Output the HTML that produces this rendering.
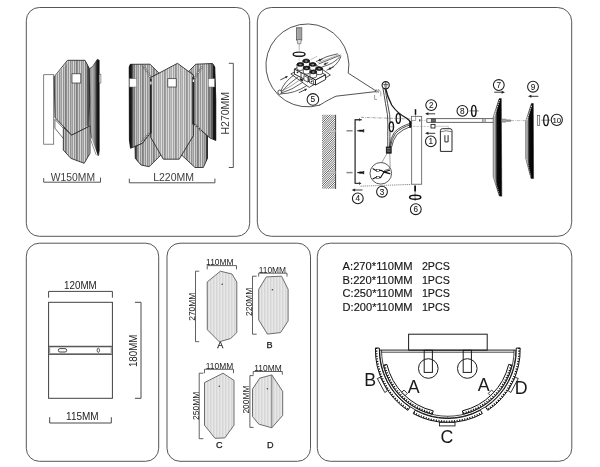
<!DOCTYPE html>
<html><head><meta charset="utf-8"><title>Assembly</title><style>html,body{margin:0;padding:0;background:#fff}svg{display:block;will-change:transform}</style></head><body>
<svg width="600" height="467" viewBox="0 0 600 467">
<rect width="600" height="467" fill="#fff"/>
<defs>
<pattern id="st1" width="11" height="8" patternUnits="userSpaceOnUse"><rect width="11" height="8" fill="#b2b2b2"/><rect x="0" width="0.9" height="8" fill="#858585"/><rect x="0.9" width="1.1" height="8" fill="#c8c8c8"/><rect x="2" width="0.8" height="8" fill="#787878"/><rect x="2.8" width="1.4" height="8" fill="#d4d4d4"/><rect x="4.2" width="0.8" height="8" fill="#8a8a8a"/><rect x="5" width="1" height="8" fill="#b4b4b4"/><rect x="6" width="0.7" height="8" fill="#6e6e6e"/><rect x="6.7" width="1.3" height="8" fill="#d8d8d8"/><rect x="8" width="1" height="8" fill="#929292"/><rect x="9" width="1" height="8" fill="#c4c4c4"/><rect x="10" width="1" height="8" fill="#808080"/></pattern>
<pattern id="st2" width="11" height="8" patternUnits="userSpaceOnUse"><rect width="11" height="8" fill="url(#st1)"/><rect width="11" height="8" fill="#fff" fill-opacity="0.15"/></pattern>
<pattern id="st3" width="1.5" height="8" patternUnits="userSpaceOnUse"><rect width="1.5" height="8" fill="#ececec"/><rect x="0" width="0.45" height="8" fill="#c2c2c2"/></pattern>
<pattern id="hatch" width="1.6" height="1.6" patternUnits="userSpaceOnUse" patternTransform="rotate(-45)"><rect width="1.6" height="1.6" fill="#fff"/><rect width="1.6" height="0.65" fill="#4a4a4a"/></pattern>
<linearGradient id="dkL" x1="0" x2="1" y1="0" y2="0"><stop offset="0" stop-color="#080808" stop-opacity="1"/><stop offset="0.28" stop-color="#080808" stop-opacity="0.9"/><stop offset="0.5" stop-color="#111" stop-opacity="0.45"/><stop offset="1" stop-color="#111" stop-opacity="0"/></linearGradient>
<linearGradient id="dkR" x1="0" x2="1" y1="0" y2="0"><stop offset="0" stop-color="#111" stop-opacity="0"/><stop offset="0.5" stop-color="#111" stop-opacity="0.45"/><stop offset="0.72" stop-color="#080808" stop-opacity="0.9"/><stop offset="1" stop-color="#080808" stop-opacity="1"/></linearGradient>
<linearGradient id="plate" x1="0" x2="1" y1="0" y2="0"><stop offset="0" stop-color="#c4c4c4"/><stop offset="0.2" stop-color="#b0b0b0"/><stop offset="0.36" stop-color="#444"/><stop offset="0.5" stop-color="#0a0a0a"/><stop offset="1" stop-color="#000"/></linearGradient>
<linearGradient id="side2" x1="0" x2="1" y1="0" y2="0"><stop offset="0" stop-color="#8a8a8a"/><stop offset="0.3" stop-color="#b0b0b0"/><stop offset="0.55" stop-color="#808080"/><stop offset="0.75" stop-color="#222"/><stop offset="1" stop-color="#000"/></linearGradient>
</defs>
<rect x="26.3" y="7.5" width="223.4" height="228.8" rx="13" ry="13" fill="none" stroke="#565656" stroke-width="1"/>
<rect x="257.3" y="7.5" width="314.4" height="228.8" rx="14" ry="14" fill="none" stroke="#565656" stroke-width="1"/>
<rect x="26.3" y="243.2" width="132.4" height="218.1" rx="13" ry="13" fill="none" stroke="#565656" stroke-width="1"/>
<rect x="167" y="243.2" width="143.5" height="218.1" rx="13" ry="13" fill="none" stroke="#565656" stroke-width="1"/>
<rect x="317.3" y="243.2" width="254.5" height="218.1" rx="13" ry="13" fill="none" stroke="#565656" stroke-width="1"/>
<rect x="43.7" y="74.7" width="10.0" height="69.5" fill="#fff" stroke="#5a5a5a" stroke-width="0.75" />
<polygon points="89.5,68.5 92.5,66.7 97.3,59.3 99.2,60.2 99.3,150.0 98.6,155.5 96.5,154.5 91.5,141.0 90.0,125.0" fill="url(#side2)" stroke="#2e2e2e" stroke-width="0.7" stroke-linejoin="round" />
<rect x="99.2" y="74.2" width="1.7" height="8.8" fill="#fff" stroke="#555" stroke-width="0.6" />
<path d="M91.2,139 Q93.5,146 96.8,154.5" fill="none" stroke="#fff" stroke-width="1.3" stroke-linecap="round" stroke-linejoin="round" />
<path d="M90.6,139.5 Q93,147 96.2,155" fill="none" stroke="#333" stroke-width="0.4" stroke-linecap="round" stroke-linejoin="round" />
<polygon points="63.4,127.5 71.6,135.0 88.9,126.4 90.0,125.6 90.0,153.3 84.2,163.3 70.8,158.3 63.3,150.0" fill="url(#st1)" stroke="#2e2e2e" stroke-width="0.9" stroke-linejoin="round" />
<polygon points="54.2,76.7 67.5,60.3 85.0,60.3 89.2,68.3 89.7,100.0 88.9,126.4 71.6,135.0 55.0,117.5" fill="url(#st1)" stroke="#2e2e2e" stroke-width="0.9" stroke-linejoin="round" />
<line x1="55.5" y1="75.5" x2="68.0" y2="61.2" stroke="#eee" stroke-width="0.5" />
<polygon points="84.0,60.3 85.0,60.3 89.2,68.3 89.7,100.0 88.3,125.0 84.0,127.3" fill="url(#dkR)" stroke="none" stroke-width="0" stroke-linejoin="round" opacity="0.55"/>
<polygon points="54.9,119.3 63.3,128.2 63.3,138.4 54.9,128.2" fill="#fff" stroke="#2e2e2e" stroke-width="0.7" stroke-linejoin="round" />
<rect x="72.0" y="73.8" width="8.8" height="9.2" fill="#fff" stroke="#2e2e2e" stroke-width="0.7" />
<polygon points="129.2,67.0 130.3,64.3 150.0,64.2 159.2,73.3 150.8,77.5 150.8,132.5 142.5,143.3 130.5,148.3 129.4,140.0" fill="url(#st1)" stroke="#2e2e2e" stroke-width="0.9" stroke-linejoin="round" />
<polygon points="129.2,67.0 130.3,64.3 136.0,64.3 136.0,146.0 130.5,148.3 129.4,140.0" fill="url(#dkL)" stroke="none" stroke-width="0" stroke-linejoin="round" />
<polygon points="195.8,64.2 212.5,63.5 214.8,67.0 215.8,100.0 215.8,140.5 210.0,138.0 203.0,132.0 193.3,123.3 193.3,75.0 189.2,70.8" fill="url(#st1)" stroke="#2e2e2e" stroke-width="0.9" stroke-linejoin="round" />
<polygon points="208.0,63.7 212.5,63.5 214.8,67.0 215.8,100.0 215.8,140.5 208.0,136.5" fill="url(#dkR)" stroke="none" stroke-width="0" stroke-linejoin="round" />
<polygon points="135.0,146.5 142.5,143.3 150.8,132.5 150.8,137.5 161.7,154.2 149.2,166.7 141.0,165.0 135.3,158.3" fill="url(#st1)" stroke="#2e2e2e" stroke-width="0.9" stroke-linejoin="round" />
<polygon points="135.0,146.5 139.0,144.8 139.0,164.0 135.3,158.3" fill="url(#dkL)" stroke="none" stroke-width="0" stroke-linejoin="round" opacity="0.7"/>
<polygon points="193.3,135.8 193.3,123.3 203.0,132.0 207.5,136.0 207.5,158.3 203.3,167.5 195.0,167.5 181.0,154.5" fill="url(#st1)" stroke="#2e2e2e" stroke-width="0.9" stroke-linejoin="round" />
<polygon points="204.0,133.0 207.5,136.0 207.5,158.3 204.0,166.0" fill="url(#dkR)" stroke="none" stroke-width="0" stroke-linejoin="round" opacity="0.7"/>
<polygon points="177.5,63.3 193.3,75.0 193.3,135.8 179.2,159.2 163.3,159.2 150.8,137.5 150.8,77.5" fill="url(#st2)" stroke="#2e2e2e" stroke-width="0.9" stroke-linejoin="round" />
<line x1="150.8" y1="79.0" x2="150.8" y2="133.5" stroke="#222" stroke-width="1.7" />
<line x1="193.4" y1="77.0" x2="193.4" y2="124.5" stroke="#242424" stroke-width="2.3" />
<circle cx="143.3" cy="65.8" r="1.0" fill="#f4f4f4" stroke="#222" stroke-width="0.5"/>
<circle cx="145.0" cy="68.3" r="1.0" fill="#f4f4f4" stroke="#222" stroke-width="0.5"/>
<circle cx="146.7" cy="70.8" r="1.0" fill="#f4f4f4" stroke="#222" stroke-width="0.5"/>
<circle cx="148.3" cy="73.3" r="1.0" fill="#f4f4f4" stroke="#222" stroke-width="0.5"/>
<circle cx="149.7" cy="76.3" r="1.0" fill="#f4f4f4" stroke="#222" stroke-width="0.5"/>
<circle cx="201.7" cy="67.5" r="1.0" fill="#f4f4f4" stroke="#222" stroke-width="0.5"/>
<circle cx="200.0" cy="70.0" r="1.0" fill="#f4f4f4" stroke="#222" stroke-width="0.5"/>
<circle cx="198.3" cy="72.5" r="1.0" fill="#f4f4f4" stroke="#222" stroke-width="0.5"/>
<circle cx="196.7" cy="75.0" r="1.0" fill="#f4f4f4" stroke="#222" stroke-width="0.5"/>
<circle cx="195.0" cy="77.5" r="1.0" fill="#f4f4f4" stroke="#222" stroke-width="0.5"/>
<circle cx="142.5" cy="141.3" r="0.9" fill="#f0f0f0" stroke="#222" stroke-width="0.5"/>
<circle cx="144.7" cy="138.7" r="0.9" fill="#f0f0f0" stroke="#222" stroke-width="0.5"/>
<circle cx="146.7" cy="136.3" r="0.9" fill="#f0f0f0" stroke="#222" stroke-width="0.5"/>
<circle cx="148.7" cy="134.2" r="0.9" fill="#f0f0f0" stroke="#222" stroke-width="0.5"/>
<circle cx="195.8" cy="125.5" r="0.9" fill="#f0f0f0" stroke="#222" stroke-width="0.5"/>
<circle cx="198.2" cy="127.7" r="0.9" fill="#f0f0f0" stroke="#222" stroke-width="0.5"/>
<circle cx="200.3" cy="130.0" r="0.9" fill="#f0f0f0" stroke="#222" stroke-width="0.5"/>
<rect x="150.2" y="81.5" width="1.3" height="3.0" fill="#eee" stroke="none" stroke-width="0" />
<rect x="192.8" y="79.5" width="1.3" height="2.5" fill="#eee" stroke="none" stroke-width="0" />
<rect x="129.4" y="78.7" width="7.3" height="8.3" fill="#fff" stroke="#666" stroke-width="0.5" />
<rect x="167.8" y="78.7" width="8.4" height="8.3" fill="#fff" stroke="#2e2e2e" stroke-width="0.7" />
<rect x="208.3" y="78.7" width="6.3" height="8.3" fill="#fff" stroke="#666" stroke-width="0.5" />
<path d="M43.7,178.5 V182.2 H100.5 V178" fill="none" stroke="#4a4a4a" stroke-width="0.95" stroke-linecap="round" stroke-linejoin="round" />
<text x="72.9" y="181.0" font-family='"Liberation Sans", Arial, sans-serif' font-size="10.3" text-anchor="middle" fill="#404040" textLength="44.2" lengthAdjust="spacingAndGlyphs" >W150MM</text>
<path d="M129.3,179 V182.8 H214.9 V179" fill="none" stroke="#4a4a4a" stroke-width="0.95" stroke-linecap="round" stroke-linejoin="round" />
<text x="173.6" y="181.0" font-family='"Liberation Sans", Arial, sans-serif' font-size="10.3" text-anchor="middle" fill="#404040" textLength="40.8" lengthAdjust="spacingAndGlyphs" >L220MM</text>
<path d="M229.2,63.3 H233.3 V167.5 H229.2" fill="none" stroke="#4a4a4a" stroke-width="0.95" stroke-linecap="round" stroke-linejoin="round" />
<text x="0.0" y="0.0" font-family='"Liberation Sans", Arial, sans-serif' font-size="10.3" text-anchor="middle" fill="#3a3a3a" textLength="42.6" lengthAdjust="spacingAndGlyphs" transform="translate(229.3,113.2) rotate(-90)">H270MM</text>
<path d="M319.7,105.1 A41.5,41.5 0 1 1 348.2,73.1 L375.8,90.8" fill="none" stroke="#333" stroke-width="0.85" stroke-linecap="round" stroke-linejoin="round" />
<path d="M319.7,105.1 Q330,98.8 336,96.2 L375.8,91.6" fill="none" stroke="#333" stroke-width="0.85" stroke-linecap="round" stroke-linejoin="round" />
<rect x="296.6" y="27.8" width="5.2" height="12.2" fill="#fff" stroke="#333" stroke-width="0.7" />
<line x1="297.7" y1="28.0" x2="297.7" y2="40.0" stroke="#444" stroke-width="0.55" />
<line x1="298.7" y1="28.0" x2="298.7" y2="40.0" stroke="#444" stroke-width="0.55" />
<line x1="299.7" y1="28.0" x2="299.7" y2="40.0" stroke="#444" stroke-width="0.55" />
<line x1="300.7" y1="28.0" x2="300.7" y2="40.0" stroke="#444" stroke-width="0.55" />
<path d="M297.2,40 L297.6,43.8 H300.8 L301.2,40" fill="#ddd" stroke="#555" stroke-width="0.6" stroke-linecap="round" stroke-linejoin="round" />
<line x1="299.2" y1="43.8" x2="299.2" y2="50.5" stroke="#888" stroke-width="0.6" />
<ellipse cx="299.1" cy="54.2" rx="5.9" ry="2.1" fill="none" stroke="#1a1a1a" stroke-width="1.4" />
<line x1="299.2" y1="56.5" x2="299.2" y2="61.0" stroke="#999" stroke-width="0.4" />
<polygon points="290.9,73.9 313.0,62.8 330.4,75.0 309.2,87.4" fill="#fff" stroke="#222" stroke-width="0.8" stroke-linejoin="round" />
<polygon points="294.4,69.1 304.5,64.0 325.6,74.8 315.5,80.0" fill="#fff" stroke="#1a1a1a" stroke-width="0.8" stroke-linejoin="round" />
<polygon points="294.4,69.1 315.5,80.0 315.5,85.0 294.4,74.0" fill="#fff" stroke="#1a1a1a" stroke-width="0.9" stroke-linejoin="round" />
<polygon points="315.5,80.0 325.6,74.8 325.6,79.5 315.5,85.0" fill="#fff" stroke="#1a1a1a" stroke-width="0.9" stroke-linejoin="round" />
<line x1="301.0" y1="72.5" x2="301.0" y2="77.4" stroke="#1a1a1a" stroke-width="0.8" />
<line x1="308.6" y1="76.4" x2="308.6" y2="81.4" stroke="#1a1a1a" stroke-width="0.8" />
<circle cx="297.5" cy="72.3" r="0.9" fill="#222" stroke="none" stroke-width="0"/>
<polygon points="300.2,78.2 302.8,79.5 302.8,81.2 300.2,79.9" fill="#111" stroke="#111" stroke-width="0.4" stroke-linejoin="round" />
<polygon points="303.9,75.6 308.0,77.7 308.0,82.2 303.9,80.1" fill="#fff" stroke="#1a1a1a" stroke-width="0.7" stroke-linejoin="round" />
<polygon points="309.6,78.6 313.6,80.6 313.6,84.6 309.6,82.6" fill="#fff" stroke="#1a1a1a" stroke-width="0.7" stroke-linejoin="round" />
<circle cx="311.6" cy="81.6" r="0.8" fill="#222" stroke="none" stroke-width="0"/>
<path d="M302.9,60.9 V65.1 A3.3,1.9 0 0 0 309.5,65.1 V60.9 Z" fill="#fff" stroke="#1a1a1a" stroke-width="0.7" stroke-linecap="round" stroke-linejoin="round" />
<ellipse cx="306.2" cy="60.9" rx="3.3" ry="1.9" fill="#1a1a1a" stroke="#111" stroke-width="0.7" />
<ellipse cx="306.2" cy="61.1" rx="1.5" ry="0.8" fill="#8a8a8a" stroke="none" stroke-width="0" />
<path d="M297.0,64.4 V68.6 A3.3,1.9 0 0 0 303.6,68.6 V64.4 Z" fill="#fff" stroke="#1a1a1a" stroke-width="0.7" stroke-linecap="round" stroke-linejoin="round" />
<ellipse cx="300.3" cy="64.4" rx="3.3" ry="1.9" fill="#1a1a1a" stroke="#111" stroke-width="0.7" />
<ellipse cx="300.3" cy="64.6" rx="1.5" ry="0.8" fill="#8a8a8a" stroke="none" stroke-width="0" />
<path d="M309.4,64.4 V68.6 A3.3,1.9 0 0 0 316.0,68.6 V64.4 Z" fill="#fff" stroke="#1a1a1a" stroke-width="0.7" stroke-linecap="round" stroke-linejoin="round" />
<ellipse cx="312.7" cy="64.4" rx="3.3" ry="1.9" fill="#1a1a1a" stroke="#111" stroke-width="0.7" />
<ellipse cx="312.7" cy="64.6" rx="1.5" ry="0.8" fill="#8a8a8a" stroke="none" stroke-width="0" />
<path d="M303.3,68.0 V72.2 A3.3,1.9 0 0 0 309.9,72.2 V68.0 Z" fill="#fff" stroke="#1a1a1a" stroke-width="0.7" stroke-linecap="round" stroke-linejoin="round" />
<ellipse cx="306.6" cy="68.0" rx="3.3" ry="1.9" fill="#1a1a1a" stroke="#111" stroke-width="0.7" />
<ellipse cx="306.6" cy="68.2" rx="1.5" ry="0.8" fill="#8a8a8a" stroke="none" stroke-width="0" />
<path d="M315.9,68.6 V72.8 A3.3,1.9 0 0 0 322.5,72.8 V68.6 Z" fill="#fff" stroke="#1a1a1a" stroke-width="0.7" stroke-linecap="round" stroke-linejoin="round" />
<ellipse cx="319.2" cy="68.6" rx="3.3" ry="1.9" fill="#1a1a1a" stroke="#111" stroke-width="0.7" />
<ellipse cx="319.2" cy="68.8" rx="1.5" ry="0.8" fill="#8a8a8a" stroke="none" stroke-width="0" />
<path d="M310.0,71.9 V76.1 A3.3,1.9 0 0 0 316.6,76.1 V71.9 Z" fill="#fff" stroke="#1a1a1a" stroke-width="0.7" stroke-linecap="round" stroke-linejoin="round" />
<ellipse cx="313.3" cy="71.9" rx="3.3" ry="1.9" fill="#1a1a1a" stroke="#111" stroke-width="0.7" />
<ellipse cx="313.3" cy="72.1" rx="1.5" ry="0.8" fill="#8a8a8a" stroke="none" stroke-width="0" />
<path d="M281,91 Q283,83 294.4,74.5" fill="none" stroke="#2a2a2a" stroke-width="0.75" stroke-linecap="round" stroke-linejoin="round" />
<path d="M281.2,92 Q288,84 298,77" fill="none" stroke="#2a2a2a" stroke-width="0.75" stroke-linecap="round" stroke-linejoin="round" />
<path d="M281.4,93 Q292,90 302.5,82.5" fill="none" stroke="#2a2a2a" stroke-width="0.75" stroke-linecap="round" stroke-linejoin="round" />
<path d="M281.4,93.8 Q295,93.5 306.5,85.8" fill="none" stroke="#2a2a2a" stroke-width="0.75" stroke-linecap="round" stroke-linejoin="round" />
<path d="M283,90.5 Q291,86.5 299,80.5" fill="none" stroke="#555" stroke-width="0.55" stroke-linecap="round" stroke-linejoin="round" />
<ellipse cx="279.7" cy="92.2" rx="1.8" ry="2.2" fill="#fff" stroke="#222" stroke-width="0.8" />
<path d="M316.2,61.5 Q327,55.5 337.4,53.8" fill="none" stroke="#2a2a2a" stroke-width="0.75" stroke-linecap="round" stroke-linejoin="round" />
<path d="M319,63.8 Q330,59.5 340.2,55.2" fill="none" stroke="#2a2a2a" stroke-width="0.75" stroke-linecap="round" stroke-linejoin="round" />
<path d="M322.5,66.8 Q334,64 340.6,56" fill="none" stroke="#2a2a2a" stroke-width="0.75" stroke-linecap="round" stroke-linejoin="round" />
<path d="M326.8,70.2 Q337,66.5 340.8,57" fill="none" stroke="#2a2a2a" stroke-width="0.75" stroke-linecap="round" stroke-linejoin="round" />
<path d="M318,62.5 Q329,59 339,54.5" fill="none" stroke="#666" stroke-width="0.5" stroke-linecap="round" stroke-linejoin="round" />
<line x1="280.3" y1="79.9" x2="287.6" y2="76.4" stroke="#333" stroke-width="0.9" />
<polygon points="287.6,76.4 286.2,78.6 285.0,76.2" fill="#222" stroke="none" stroke-width="0" stroke-linejoin="round" />
<line x1="298.8" y1="92.7" x2="306.8" y2="89.0" stroke="#333" stroke-width="0.9" />
<polygon points="306.8,89.0 305.3,91.2 304.2,88.7" fill="#222" stroke="none" stroke-width="0" stroke-linejoin="round" />
<line x1="322.5" y1="58.9" x2="318.4" y2="60.6" stroke="#333" stroke-width="0.9" />
<polygon points="318.4,60.6 319.9,58.5 321.0,61.0" fill="#222" stroke="none" stroke-width="0" stroke-linejoin="round" />
<line x1="328.2" y1="62.6" x2="323.8" y2="64.5" stroke="#333" stroke-width="0.9" />
<polygon points="323.8,64.5 325.3,62.4 326.4,64.8" fill="#222" stroke="none" stroke-width="0" stroke-linejoin="round" />
<line x1="334.0" y1="66.6" x2="328.6" y2="69.2" stroke="#333" stroke-width="0.9" />
<polygon points="328.6,69.2 330.0,67.0 331.2,69.4" fill="#222" stroke="none" stroke-width="0" stroke-linejoin="round" />
<line x1="310.3" y1="59.7" x2="317.4" y2="56.2" stroke="#888" stroke-width="0.5" />
<circle cx="312.9" cy="99.4" r="5.8" fill="#fff" stroke="#1c1c1c" stroke-width="1.05"/>
<text x="312.9" y="102.4" font-family='"Liberation Sans", Arial, sans-serif' font-size="8.4" text-anchor="middle" fill="#1c1c1c" stroke="#1c1c1c" stroke-width="0.1">5</text>
<clipPath id="wallclip"><rect x="322" y="114.8" width="13.6" height="73.9"/></clipPath>
<g clip-path="url(#wallclip)" stroke="#4a4a4a" stroke-width="0.85">
<line x1="321" y1="115.00" x2="336.6" y2="99.40"/>
<line x1="321" y1="117.25" x2="336.6" y2="101.65"/>
<line x1="321" y1="119.50" x2="336.6" y2="103.90"/>
<line x1="321" y1="121.75" x2="336.6" y2="106.15"/>
<line x1="321" y1="124.00" x2="336.6" y2="108.40"/>
<line x1="321" y1="126.25" x2="336.6" y2="110.65"/>
<line x1="321" y1="128.50" x2="336.6" y2="112.90"/>
<line x1="321" y1="130.75" x2="336.6" y2="115.15"/>
<line x1="321" y1="133.00" x2="336.6" y2="117.40"/>
<line x1="321" y1="135.25" x2="336.6" y2="119.65"/>
<line x1="321" y1="137.50" x2="336.6" y2="121.90"/>
<line x1="321" y1="139.75" x2="336.6" y2="124.15"/>
<line x1="321" y1="142.00" x2="336.6" y2="126.40"/>
<line x1="321" y1="144.25" x2="336.6" y2="128.65"/>
<line x1="321" y1="146.50" x2="336.6" y2="130.90"/>
<line x1="321" y1="148.75" x2="336.6" y2="133.15"/>
<line x1="321" y1="151.00" x2="336.6" y2="135.40"/>
<line x1="321" y1="153.25" x2="336.6" y2="137.65"/>
<line x1="321" y1="155.50" x2="336.6" y2="139.90"/>
<line x1="321" y1="157.75" x2="336.6" y2="142.15"/>
<line x1="321" y1="160.00" x2="336.6" y2="144.40"/>
<line x1="321" y1="162.25" x2="336.6" y2="146.65"/>
<line x1="321" y1="164.50" x2="336.6" y2="148.90"/>
<line x1="321" y1="166.75" x2="336.6" y2="151.15"/>
<line x1="321" y1="169.00" x2="336.6" y2="153.40"/>
<line x1="321" y1="171.25" x2="336.6" y2="155.65"/>
<line x1="321" y1="173.50" x2="336.6" y2="157.90"/>
<line x1="321" y1="175.75" x2="336.6" y2="160.15"/>
<line x1="321" y1="178.00" x2="336.6" y2="162.40"/>
<line x1="321" y1="180.25" x2="336.6" y2="164.65"/>
<line x1="321" y1="182.50" x2="336.6" y2="166.90"/>
<line x1="321" y1="184.75" x2="336.6" y2="169.15"/>
<line x1="321" y1="187.00" x2="336.6" y2="171.40"/>
<line x1="321" y1="189.25" x2="336.6" y2="173.65"/>
<line x1="321" y1="191.50" x2="336.6" y2="175.90"/>
<line x1="321" y1="193.75" x2="336.6" y2="178.15"/>
<line x1="321" y1="196.00" x2="336.6" y2="180.40"/>
<line x1="321" y1="198.25" x2="336.6" y2="182.65"/>
<line x1="321" y1="200.50" x2="336.6" y2="184.90"/>
<line x1="321" y1="202.75" x2="336.6" y2="187.15"/>
</g>
<line x1="335.6" y1="114.8" x2="335.6" y2="189.0" stroke="#333" stroke-width="0.9" />
<rect x="328.0" y="130.1" width="7.3" height="2.2" fill="#c8c8c8" stroke="#999" stroke-width="0.4" />
<rect x="328.0" y="171.5" width="7.3" height="2.2" fill="#c8c8c8" stroke="#999" stroke-width="0.4" />
<path d="M361.2,119.7 H355.1 V183.3 H360.6" fill="none" stroke="#3a3a3a" stroke-width="1.35" stroke-linecap="round" stroke-linejoin="round" />
<line x1="359.5" y1="118.0" x2="359.5" y2="121.2" stroke="#2e2e2e" stroke-width="0.6" />
<line x1="359.5" y1="181.8" x2="359.5" y2="185.0" stroke="#2e2e2e" stroke-width="0.6" />
<line x1="361.0" y1="117.3" x2="411.5" y2="119.0" stroke="#555" stroke-width="0.55" stroke-dasharray="3 1 0.8 1"/>
<line x1="360.5" y1="186.2" x2="411.5" y2="184.4" stroke="#444" stroke-width="0.6" stroke-dasharray="1.3 0.8"/>
<line x1="346.5" y1="130.8" x2="352.6" y2="130.8" stroke="#8a8a8a" stroke-width="1.5" />
<polygon points="357.0,130.8 360.0,130.0 363.2,130.0 363.2,131.6 360.0,131.6" fill="#111" stroke="#111" stroke-width="0.4" stroke-linejoin="round" />
<line x1="363.7" y1="129.2" x2="363.7" y2="132.4" stroke="#111" stroke-width="1.0" />
<line x1="346.5" y1="172.6" x2="352.6" y2="172.6" stroke="#8a8a8a" stroke-width="1.5" />
<polygon points="357.0,172.6 360.0,171.8 363.2,171.8 363.2,173.4 360.0,173.4" fill="#111" stroke="#111" stroke-width="0.4" stroke-linejoin="round" />
<line x1="363.7" y1="171.0" x2="363.7" y2="174.2" stroke="#111" stroke-width="1.0" />
<line x1="353.7" y1="190.0" x2="362.5" y2="190.0" stroke="#222" stroke-width="0.9" />
<polygon points="351.7,190.0 355.1,188.5 355.1,191.5" fill="#222" stroke="none" stroke-width="0" stroke-linejoin="round" />
<circle cx="357.8" cy="198.4" r="5.4" fill="#fff" stroke="#1c1c1c" stroke-width="1.05"/>
<text x="357.8" y="201.4" font-family='"Liberation Sans", Arial, sans-serif' font-size="8.2" text-anchor="middle" fill="#1c1c1c" stroke="#1c1c1c" stroke-width="0.1">4</text>
<path d="M383.0,88.5 Q384.2,95 385.5,103.5 Q388.2,115 387.9,125 Q387.6,137 387.8,146.5" fill="none" stroke="#2a2a2a" stroke-width="0.85" stroke-linecap="round" stroke-linejoin="round" />
<path d="M385.0,88.5 Q386.2,95 387.6,103.5 Q390.4,115 390.1,125 Q389.9,137 389.7,146.5" fill="none" stroke="#2a2a2a" stroke-width="0.85" stroke-linecap="round" stroke-linejoin="round" />
<path d="M385.5,88 Q387.5,97 391.7,105 Q397,113 406.7,118.3 Q409.5,120.5 411.3,123" fill="none" stroke="#1a1a1a" stroke-width="1.3" stroke-linecap="round" stroke-linejoin="round" />
<path d="M411.3,124.5 Q401,127.5 395.5,133.3 Q391.5,139 390.4,146.8" fill="none" stroke="#222" stroke-width="0.8" stroke-linecap="round" stroke-linejoin="round" />
<path d="M411.3,126.2 Q402,129.5 397,134.5 Q392.8,140 391.6,146.8" fill="none" stroke="#222" stroke-width="0.8" stroke-linecap="round" stroke-linejoin="round" />
<path d="M411.3,123 Q400,126.2 394.3,132.4 Q390.4,138 389.6,146.8" fill="none" stroke="#222" stroke-width="0.8" stroke-linecap="round" stroke-linejoin="round" />
<rect x="409.4" y="121.6" width="2.2" height="6.0" fill="#111" stroke="#111" stroke-width="0.4" />
<ellipse cx="398.3" cy="118.4" rx="2.1" ry="4.8" fill="#fff" stroke="#111" stroke-width="1.35" />
<line x1="395.5" y1="118.4" x2="401.3" y2="118.4" stroke="#444" stroke-width="0.5" />
<ellipse cx="391.4" cy="126.8" rx="2.1" ry="4.8" fill="#fff" stroke="#111" stroke-width="1.35" />
<line x1="388.6" y1="126.8" x2="394.4" y2="126.8" stroke="#444" stroke-width="0.5" />
<circle cx="385.7" cy="85.2" r="3.6" fill="#fff" stroke="#1a1a1a" stroke-width="1.1"/>
<line x1="383.3" y1="84.4" x2="388.1" y2="84.4" stroke="#2e2e2e" stroke-width="0.8" />
<line x1="384.0" y1="85.9" x2="387.4" y2="85.9" stroke="#2e2e2e" stroke-width="0.8" />
<line x1="384.8" y1="87.3" x2="386.6" y2="87.3" stroke="#2e2e2e" stroke-width="0.8" />
<line x1="385.7" y1="82.2" x2="385.7" y2="84.4" stroke="#2e2e2e" stroke-width="0.8" />
<path d="M376.2,92.8 V89.4 L378.3,92.8 V89.4" fill="none" stroke="#444" stroke-width="0.5" stroke-linecap="round" stroke-linejoin="round" />
<path d="M379.5,90 Q381.5,92 381,96" fill="none" stroke="#555" stroke-width="0.5" stroke-linecap="round" stroke-linejoin="round" />
<path d="M374.6,95.2 V99.4 H376.6" fill="none" stroke="#444" stroke-width="0.5" stroke-linecap="round" stroke-linejoin="round" />
<rect x="386.3" y="147.0" width="4.9" height="6.2" fill="#2a2a2a" stroke="#111" stroke-width="0.8" />
<line x1="387.0" y1="148.7" x2="390.5" y2="148.7" stroke="#ddd" stroke-width="0.5" />
<line x1="387.0" y1="151.0" x2="390.5" y2="151.0" stroke="#ddd" stroke-width="0.5" />
<line x1="387.2" y1="153.2" x2="381.8" y2="162.6" stroke="#444" stroke-width="0.5" />
<line x1="389.8" y1="153.2" x2="390.2" y2="167.6" stroke="#444" stroke-width="0.5" />
<circle cx="380.8" cy="173.3" r="10.8" fill="none" stroke="#2e2e2e" stroke-width="0.8"/>
<path d="M373,168.8 L376.5,170.8 L381,170.2 L384,172" fill="none" stroke="#111" stroke-width="1.1" stroke-linecap="round" stroke-linejoin="round" />
<path d="M373,178.8 L376.5,177.3 L380.5,177.8 L384,172 L389.5,170.2" fill="none" stroke="#111" stroke-width="1.1" stroke-linecap="round" stroke-linejoin="round" />
<path d="M384,172 L389.8,173.6" fill="none" stroke="#111" stroke-width="1.5" stroke-linecap="round" stroke-linejoin="round" />
<path d="M384.5,170.5 L389.8,168.8" fill="none" stroke="#111" stroke-width="0.6" stroke-linecap="round" stroke-linejoin="round" />
<rect x="376.3" y="169.6" width="3.0" height="2.0" fill="#fff" stroke="#111" stroke-width="0.5" />
<rect x="376.3" y="176.6" width="3.0" height="2.0" fill="#fff" stroke="#111" stroke-width="0.5" />
<circle cx="382.0" cy="191.7" r="5.4" fill="#fff" stroke="#1c1c1c" stroke-width="1.05"/>
<text x="382.0" y="194.7" font-family='"Liberation Sans", Arial, sans-serif' font-size="8.2" text-anchor="middle" fill="#1c1c1c" stroke="#1c1c1c" stroke-width="0.1">3</text>
<rect x="411.7" y="116.3" width="10.0" height="67.9" fill="#fff" stroke="#4a4a4a" stroke-width="0.75" />
<rect x="411.7" y="116.3" width="4.1" height="4.1" fill="#fff" stroke="#555" stroke-width="0.5" />
<rect x="419.2" y="119.3" width="1.2" height="2.1" fill="#222" stroke="none" stroke-width="0" />
<line x1="415.5" y1="109.2" x2="415.5" y2="114.8" stroke="#111" stroke-width="1.5" />
<line x1="415.5" y1="114.8" x2="415.5" y2="116.3" stroke="#555" stroke-width="0.5" />
<line x1="415.1" y1="185.6" x2="415.1" y2="191.4" stroke="#111" stroke-width="1.8" />
<line x1="415.1" y1="191.4" x2="415.1" y2="201.0" stroke="#333" stroke-width="0.6" />
<ellipse cx="415.2" cy="197.3" rx="5.6" ry="2.0" fill="none" stroke="#111" stroke-width="1.5" />
<circle cx="415.8" cy="209.2" r="5.4" fill="#fff" stroke="#1c1c1c" stroke-width="1.05"/>
<text x="415.8" y="212.2" font-family='"Liberation Sans", Arial, sans-serif' font-size="8.2" text-anchor="middle" fill="#1c1c1c" stroke="#1c1c1c" stroke-width="0.1">6</text>
<line x1="421.7" y1="120.4" x2="426.7" y2="120.4" stroke="#777" stroke-width="0.4" stroke-dasharray="1.5 1"/>
<line x1="413.0" y1="126.4" x2="430.5" y2="126.4" stroke="#777" stroke-width="0.4" stroke-dasharray="2.5 1"/>
<circle cx="431.2" cy="105.1" r="5.4" fill="#fff" stroke="#1c1c1c" stroke-width="1.05"/>
<text x="431.2" y="108.1" font-family='"Liberation Sans", Arial, sans-serif' font-size="8.2" text-anchor="middle" fill="#1c1c1c" stroke="#1c1c1c" stroke-width="0.1">2</text>
<line x1="427.0" y1="113.8" x2="435.2" y2="113.8" stroke="#222" stroke-width="0.9" />
<polygon points="425.0,113.8 428.4,112.3 428.4,115.3" fill="#222" stroke="none" stroke-width="0" stroke-linejoin="round" />
<line x1="427.0" y1="133.3" x2="435.2" y2="133.3" stroke="#222" stroke-width="0.9" />
<polygon points="425.0,133.3 428.4,131.8 428.4,134.8" fill="#222" stroke="none" stroke-width="0" stroke-linejoin="round" />
<circle cx="430.8" cy="141.4" r="5.3" fill="#fff" stroke="#1c1c1c" stroke-width="1.05"/>
<text x="430.8" y="144.4" font-family='"Liberation Sans", Arial, sans-serif' font-size="8.2" text-anchor="middle" fill="#1c1c1c" stroke="#1c1c1c" stroke-width="0.1">1</text>
<path d="M493.3,118.6 H426.8 V122.4 H493.3" fill="none" stroke="#333" stroke-width="0.75" stroke-linecap="round" stroke-linejoin="round" />
<rect x="431.2" y="118.9" width="4.4" height="3.2" fill="#666" stroke="#222" stroke-width="0.5" />
<rect x="482.3" y="118.6" width="3.0" height="3.8" fill="#bbb" stroke="#555" stroke-width="0.4" />
<rect x="431.0" y="124.4" width="4.0" height="3.6" fill="#fff" stroke="#222" stroke-width="0.9" />
<path d="M435.3,126.3 H448.3 V128.7" fill="none" stroke="#777" stroke-width="0.4" stroke-linecap="round" stroke-linejoin="round" />
<path d="M440.4,151 V130.6 Q440.4,128.7 442.4,128.7 H450 Q452,128.7 452,130.6 V151 Z" fill="#fff" stroke="#1c1c1c" stroke-width="0.95" stroke-linecap="round" stroke-linejoin="round" />
<path d="M441.2,131.6 Q446.2,129.8 451.2,131.6" fill="none" stroke="#444" stroke-width="0.7" stroke-linecap="round" stroke-linejoin="round" />
<path d="M444.9,135.6 V141.9 H448.1 V135.6" fill="none" stroke="#1c1c1c" stroke-width="0.95" stroke-linecap="round" stroke-linejoin="round" />
<circle cx="462.4" cy="110.9" r="5.4" fill="#fff" stroke="#1c1c1c" stroke-width="1.05"/>
<text x="462.4" y="113.9" font-family='"Liberation Sans", Arial, sans-serif' font-size="8.2" text-anchor="middle" fill="#1c1c1c" stroke="#1c1c1c" stroke-width="0.1">8</text>
<ellipse cx="473.8" cy="110.9" rx="2.2" ry="5.5" fill="none" stroke="#111" stroke-width="1.4" />
<line x1="469.5" y1="110.9" x2="478.6" y2="110.9" stroke="#333" stroke-width="0.7" />
<circle cx="498.8" cy="85.0" r="5.4" fill="#fff" stroke="#1c1c1c" stroke-width="1.05"/>
<text x="498.8" y="88.0" font-family='"Liberation Sans", Arial, sans-serif' font-size="8.2" text-anchor="middle" fill="#1c1c1c" stroke="#1c1c1c" stroke-width="0.1">7</text>
<line x1="494.2" y1="92.2" x2="503.0" y2="92.2" stroke="#222" stroke-width="0.9" />
<polygon points="505.0,92.2 501.6,90.7 501.6,93.7" fill="#222" stroke="none" stroke-width="0" stroke-linejoin="round" />
<polygon points="493.2,117.0 499.2,98.6 501.3,98.6 501.8,196.2 499.3,196.0 493.2,176.7" fill="url(#plate)" stroke="#222" stroke-width="0.5" stroke-linejoin="round" />
<line x1="494.4" y1="116.3" x2="499.7" y2="100.0" stroke="#f4f4f4" stroke-width="0.9" stroke-dasharray="1.6 0.7"/>
<line x1="494.3" y1="177.5" x2="499.5" y2="194.5" stroke="#ddd" stroke-width="0.6" stroke-dasharray="1.2 0.8"/>
<path d="M501.8,119.2 H505.8 L506.6,119.9 H510.6 V121.3 H506.6 L505.8,122 H501.8" fill="#aaa" stroke="#555" stroke-width="0.6" stroke-linecap="round" stroke-linejoin="round" />
<line x1="511.0" y1="120.6" x2="525.5" y2="120.6" stroke="#777" stroke-width="0.5" stroke-dasharray="3 1 0.8 1"/>
<circle cx="533.0" cy="86.7" r="5.4" fill="#fff" stroke="#1c1c1c" stroke-width="1.05"/>
<text x="533.0" y="89.7" font-family='"Liberation Sans", Arial, sans-serif' font-size="8.2" text-anchor="middle" fill="#1c1c1c" stroke="#1c1c1c" stroke-width="0.1">9</text>
<line x1="530.0" y1="96.3" x2="538.4" y2="96.3" stroke="#222" stroke-width="0.9" />
<polygon points="528.0,96.3 531.4,94.8 531.4,97.8" fill="#222" stroke="none" stroke-width="0" stroke-linejoin="round" />
<polygon points="525.7,121.3 531.4,103.5 533.3,103.5 533.6,178.6 531.0,178.4 525.7,158.3" fill="url(#plate)" stroke="#222" stroke-width="0.5" stroke-linejoin="round" />
<line x1="526.8" y1="120.4" x2="531.9" y2="105.0" stroke="#f4f4f4" stroke-width="0.9" stroke-dasharray="1.6 0.7"/>
<line x1="526.7" y1="159.0" x2="531.0" y2="177.0" stroke="#ddd" stroke-width="0.6" stroke-dasharray="1.2 0.8"/>
<rect x="537.3" y="115.6" width="2.4" height="9.7" fill="#fff" stroke="#444" stroke-width="0.65" />
<ellipse cx="546.0" cy="120.2" rx="2.3" ry="5.4" fill="none" stroke="#111" stroke-width="1.3" />
<line x1="541.3" y1="120.2" x2="550.5" y2="120.2" stroke="#333" stroke-width="0.6" />
<circle cx="556.8" cy="119.8" r="5.6" fill="#fff" stroke="#1c1c1c" stroke-width="1.05"/>
<text x="556.8" y="122.6" font-family='"Liberation Sans", Arial, sans-serif' font-size="7.8" text-anchor="middle" fill="#1c1c1c" stroke="#1c1c1c" stroke-width="0.1">10</text>
<text x="80.4" y="289.0" font-family='"Liberation Sans", Arial, sans-serif' font-size="10.3" text-anchor="middle" fill="#1c1c1c" textLength="32.6" lengthAdjust="spacingAndGlyphs" >120MM</text>
<path d="M48.6,297.3 V291.4 H112.4 V297.3" fill="none" stroke="#484848" stroke-width="1.0" stroke-linecap="round" stroke-linejoin="round" />
<rect x="48.6" y="302.3" width="63.8" height="96.0" fill="none" stroke="#404040" stroke-width="1.0" />
<rect x="49.7" y="346.9" width="61.6" height="6.9" rx="1" ry="1" fill="none" stroke="#555" stroke-width="0.7"/>
<line x1="48.6" y1="346.3" x2="112.4" y2="346.3" stroke="#404040" stroke-width="1.0" />
<line x1="48.6" y1="354.3" x2="112.4" y2="354.3" stroke="#404040" stroke-width="1.0" />
<rect x="58.3" y="348.6" width="8.4" height="3.4" rx="1.7" ry="1.7" fill="#fff" stroke="#333" stroke-width="0.9"/>
<ellipse cx="98.3" cy="350.3" rx="1.2" ry="2.1" fill="none" stroke="#333" stroke-width="0.8" />
<path d="M135.3,302.3 H141 V398.3 H135.3" fill="none" stroke="#484848" stroke-width="1.0" stroke-linecap="round" stroke-linejoin="round" />
<text x="0.0" y="0.0" font-family='"Liberation Sans", Arial, sans-serif' font-size="10.3" text-anchor="middle" fill="#1c1c1c" textLength="32.6" lengthAdjust="spacingAndGlyphs" transform="translate(136.8,350.8) rotate(-90)">180MM</text>
<text x="82.4" y="420.2" font-family='"Liberation Sans", Arial, sans-serif' font-size="10.3" text-anchor="middle" fill="#1c1c1c" textLength="32.6" lengthAdjust="spacingAndGlyphs" >115MM</text>
<path d="M49.7,417.6 V423 H111.3 V417.6" fill="none" stroke="#484848" stroke-width="1.0" stroke-linecap="round" stroke-linejoin="round" />
<polygon points="220.4,271.2 232.0,274.0 236.8,282.0 236.8,332.6 230.7,338.5 219.3,341.8 207.3,329.7 207.2,282.0" fill="url(#st3)" stroke="#5e5e5e" stroke-width="0.9" stroke-linejoin="round" />
<circle cx="222.2" cy="284.3" r="0.8" fill="#444" stroke="none" stroke-width="0"/>
<text x="206.1" y="265.3" font-family='"Liberation Sans", Arial, sans-serif' font-size="8.5" text-anchor="start" fill="#222" textLength="27.4" lengthAdjust="spacingAndGlyphs" >110MM</text>
<path d="M207.2,269 V265.6 H236.5 V269" fill="none" stroke="#444" stroke-width="0.85" stroke-linecap="round" stroke-linejoin="round" />
<path d="M198.8,271.2 H195.5 V341.7 H198.8" fill="none" stroke="#444" stroke-width="0.85" stroke-linecap="round" stroke-linejoin="round" />
<text x="0.0" y="0.0" font-family='"Liberation Sans", Arial, sans-serif' font-size="8.5" text-anchor="middle" fill="#222" textLength="28.2" lengthAdjust="spacingAndGlyphs" transform="translate(194.7,306.7) rotate(-90)">270MM</text>
<text x="220.4" y="348.3" font-family='"Liberation Sans", Arial, sans-serif' font-size="9.1" text-anchor="middle" fill="#1a1a1a" stroke="#1a1a1a" stroke-width="0.25">A</text>
<polygon points="266.3,276.9 281.6,276.2 288.1,289.3 288.1,321.0 280.5,332.6 267.4,334.1 258.7,319.9 258.7,289.3" fill="url(#st3)" stroke="#5e5e5e" stroke-width="0.9" stroke-linejoin="round" />
<circle cx="272.4" cy="289.8" r="0.8" fill="#444" stroke="none" stroke-width="0"/>
<text x="258.7" y="272.7" font-family='"Liberation Sans", Arial, sans-serif' font-size="8.5" text-anchor="start" fill="#222" textLength="27.4" lengthAdjust="spacingAndGlyphs" >110MM</text>
<path d="M258.7,276.2 V273.2 H287 V276.2" fill="none" stroke="#444" stroke-width="0.85" stroke-linecap="round" stroke-linejoin="round" />
<path d="M256.3,276.2 H252.5 V334.2 H256.3" fill="none" stroke="#444" stroke-width="0.85" stroke-linecap="round" stroke-linejoin="round" />
<text x="0.0" y="0.0" font-family='"Liberation Sans", Arial, sans-serif' font-size="8.5" text-anchor="middle" fill="#222" textLength="28.2" lengthAdjust="spacingAndGlyphs" transform="translate(251.9,301.9) rotate(-90)">220MM</text>
<text x="269.6" y="348.3" font-family='"Liberation Sans", Arial, sans-serif' font-size="9.1" text-anchor="middle" fill="#1a1a1a" stroke="#1a1a1a" stroke-width="0.25">B</text>
<polygon points="223.0,373.2 234.0,380.4 234.0,425.2 224.8,437.9 215.0,438.3 204.5,425.2 204.5,382.6" fill="url(#st3)" stroke="#5e5e5e" stroke-width="0.9" stroke-linejoin="round" />
<circle cx="219.3" cy="386.3" r="0.8" fill="#444" stroke="none" stroke-width="0"/>
<text x="205.8" y="368.8" font-family='"Liberation Sans", Arial, sans-serif' font-size="8.5" text-anchor="start" fill="#222" textLength="27.4" lengthAdjust="spacingAndGlyphs" >110MM</text>
<path d="M204.5,372.8 V369.3 H233.5 V372.8" fill="none" stroke="#444" stroke-width="0.85" stroke-linecap="round" stroke-linejoin="round" />
<path d="M203,373.2 H199.2 V438.7 H203" fill="none" stroke="#444" stroke-width="0.85" stroke-linecap="round" stroke-linejoin="round" />
<text x="0.0" y="0.0" font-family='"Liberation Sans", Arial, sans-serif' font-size="8.5" text-anchor="middle" fill="#222" textLength="28.2" lengthAdjust="spacingAndGlyphs" transform="translate(198.6,405.8) rotate(-90)">250MM</text>
<text x="219.3" y="447.5" font-family='"Liberation Sans", Arial, sans-serif' font-size="9.1" text-anchor="middle" fill="#1a1a1a" stroke="#1a1a1a" stroke-width="0.25">C</text>
<polygon points="259.7,378.2 271.8,374.9 282.7,391.3 282.7,415.4 271.8,427.8 258.7,424.1 252.5,416.5 252.5,389.1" fill="url(#st3)" stroke="#5e5e5e" stroke-width="0.9" stroke-linejoin="round" />
<line x1="271.8" y1="374.9" x2="271.8" y2="427.8" stroke="#5e5e5e" stroke-width="0.8" />
<circle cx="267.4" cy="388.7" r="0.8" fill="#444" stroke="none" stroke-width="0"/>
<text x="254.3" y="371.0" font-family='"Liberation Sans", Arial, sans-serif' font-size="8.5" text-anchor="start" fill="#222" textLength="27.4" lengthAdjust="spacingAndGlyphs" >110MM</text>
<path d="M253.2,374.3 V371.5 H282.3 V374.3" fill="none" stroke="#444" stroke-width="0.85" stroke-linecap="round" stroke-linejoin="round" />
<path d="M253.2,375.6 H249.9 V427.4 H253.2" fill="none" stroke="#444" stroke-width="0.85" stroke-linecap="round" stroke-linejoin="round" />
<text x="0.0" y="0.0" font-family='"Liberation Sans", Arial, sans-serif' font-size="8.5" text-anchor="middle" fill="#222" textLength="28.2" lengthAdjust="spacingAndGlyphs" transform="translate(249.3,399.5) rotate(-90)">200MM</text>
<text x="270.2" y="447.5" font-family='"Liberation Sans", Arial, sans-serif' font-size="9.1" text-anchor="middle" fill="#1a1a1a" stroke="#1a1a1a" stroke-width="0.25">D</text>
<text x="342.6" y="270.4" font-family='"Liberation Sans", Arial, sans-serif' font-size="11" text-anchor="start" fill="#151515" textLength="70.0" lengthAdjust="spacingAndGlyphs" stroke="#151515" stroke-width="0.15">A:270*110MM</text>
<text x="421.9" y="270.4" font-family='"Liberation Sans", Arial, sans-serif' font-size="11" text-anchor="start" fill="#151515" textLength="28.0" lengthAdjust="spacingAndGlyphs" stroke="#151515" stroke-width="0.15">2PCS</text>
<text x="342.6" y="283.9" font-family='"Liberation Sans", Arial, sans-serif' font-size="11" text-anchor="start" fill="#151515" textLength="70.0" lengthAdjust="spacingAndGlyphs" stroke="#151515" stroke-width="0.15">B:220*110MM</text>
<text x="421.9" y="283.9" font-family='"Liberation Sans", Arial, sans-serif' font-size="11" text-anchor="start" fill="#151515" textLength="28.0" lengthAdjust="spacingAndGlyphs" stroke="#151515" stroke-width="0.15">1PCS</text>
<text x="342.6" y="297.4" font-family='"Liberation Sans", Arial, sans-serif' font-size="11" text-anchor="start" fill="#151515" textLength="70.0" lengthAdjust="spacingAndGlyphs" stroke="#151515" stroke-width="0.15">C:250*110MM</text>
<text x="421.9" y="297.4" font-family='"Liberation Sans", Arial, sans-serif' font-size="11" text-anchor="start" fill="#151515" textLength="28.0" lengthAdjust="spacingAndGlyphs" stroke="#151515" stroke-width="0.15">1PCS</text>
<text x="342.6" y="310.9" font-family='"Liberation Sans", Arial, sans-serif' font-size="11" text-anchor="start" fill="#151515" textLength="70.0" lengthAdjust="spacingAndGlyphs" stroke="#151515" stroke-width="0.15">D:200*110MM</text>
<text x="421.9" y="310.9" font-family='"Liberation Sans", Arial, sans-serif' font-size="11" text-anchor="start" fill="#151515" textLength="28.0" lengthAdjust="spacingAndGlyphs" stroke="#151515" stroke-width="0.15">1PCS</text>
<rect x="408.6" y="334.2" width="78.6" height="16.0" fill="none" stroke="#1c1c1c" stroke-width="1.0" />
<line x1="380.0" y1="350.1" x2="515.5" y2="350.1" stroke="#222" stroke-width="1.0" />
<line x1="381.6" y1="352.2" x2="514.0" y2="352.2" stroke="#333" stroke-width="0.9" />
<circle cx="428.3" cy="368.5" r="9.8" fill="none" stroke="#1c1c1c" stroke-width="1.0"/>
<rect x="424.2" y="350.3" width="8.2" height="22.1" fill="none" stroke="#1c1c1c" stroke-width="1.0" />
<circle cx="467.3" cy="368.5" r="9.8" fill="none" stroke="#1c1c1c" stroke-width="1.0"/>
<rect x="463.2" y="350.3" width="8.2" height="22.1" fill="none" stroke="#1c1c1c" stroke-width="1.0" />
<path d="M379.70,350.00 A68.1,68.1 0 0 0 515.90,350.00" fill="none" stroke="#1c1c1c" stroke-width="0.9"/>
<path d="M381.50,350.00 A66.3,66.3 0 0 0 514.10,350.00" fill="none" stroke="#1c1c1c" stroke-width="0.8"/>
<line x1="447.7" y1="416.3" x2="447.7" y2="420.3" stroke="#2e2e2e" stroke-width="0.7" />
<path d="M375.43,347.98 A72.4,72.4 0 0 0 407.84,410.37 L409.99,407.12 A68.5,68.5 0 0 1 379.33,348.09 Z" fill="#fff" stroke="#111" stroke-width="1.0" stroke-linejoin="miter"/>
<path d="M376.53,348.01 A71.30000000000001,71.30000000000001 0 0 0 408.45,409.46" fill="none" stroke="#111" stroke-width="1.7" stroke-dasharray="1.1 1.5"/>
<path d="M520.17,347.98 A72.4,72.4 0 0 1 487.76,410.37 L485.61,407.12 A68.5,68.5 0 0 0 516.27,348.09 Z" fill="#fff" stroke="#111" stroke-width="1.0" stroke-linejoin="miter"/>
<path d="M519.07,348.01 A71.30000000000001,71.30000000000001 0 0 1 487.15,409.46" fill="none" stroke="#111" stroke-width="1.7" stroke-dasharray="1.1 1.5"/>
<path d="M413.25,413.63 A72.4,72.4 0 0 0 482.35,413.63 L480.49,410.20 A68.5,68.5 0 0 1 415.11,410.20 Z" fill="#fff" stroke="#111" stroke-width="1.0" stroke-linejoin="miter"/>
<path d="M413.78,412.66 A71.30000000000001,71.30000000000001 0 0 0 481.82,412.66" fill="none" stroke="#111" stroke-width="1.7" stroke-dasharray="1.1 1.5"/>
<path d="M383.57,365.18 A66.0,66.0 0 0 0 432.39,414.18 L433.19,410.87 A62.6,62.6 0 0 1 386.88,364.40 Z" fill="#fff" stroke="#111" stroke-width="1.0" stroke-linejoin="miter"/>
<path d="M384.64,364.93 A64.9,64.9 0 0 0 432.65,413.11" fill="none" stroke="#111" stroke-width="1.7" stroke-dasharray="1.1 1.5"/>
<path d="M512.03,365.18 A66.0,66.0 0 0 1 463.21,414.18 L462.41,410.87 A62.6,62.6 0 0 0 508.72,364.40 Z" fill="#fff" stroke="#111" stroke-width="1.0" stroke-linejoin="miter"/>
<path d="M510.96,364.93 A64.9,64.9 0 0 1 462.95,413.11" fill="none" stroke="#111" stroke-width="1.7" stroke-dasharray="1.1 1.5"/>
<polygon points="380.3,377.3 377.3,378.5 384.8,392.5 387.4,390.7" fill="#fff" stroke="#1c1c1c" stroke-width="0.9" stroke-linejoin="round" />
<polygon points="515.3,377.3 518.3,378.5 510.8,392.5 508.2,390.7" fill="#fff" stroke="#1c1c1c" stroke-width="0.9" stroke-linejoin="round" />
<polygon points="404.0,390.1 401.8,392.2 405.2,395.6 407.3,393.4" fill="#fff" stroke="#1c1c1c" stroke-width="0.9" stroke-linejoin="round" />
<polygon points="488.3,393.4 490.4,395.6 493.8,392.2 491.6,390.1" fill="#fff" stroke="#1c1c1c" stroke-width="0.9" stroke-linejoin="round" />
<rect x="439.4" y="422.4" width="15.6" height="3.5" fill="#fff" stroke="#1c1c1c" stroke-width="0.9" />
<text x="370.2" y="386.0" font-family='"Liberation Sans", Arial, sans-serif' font-size="17.8" text-anchor="middle" fill="#1a1a1a" >B</text>
<text x="413.7" y="392.8" font-family='"Liberation Sans", Arial, sans-serif' font-size="17.8" text-anchor="middle" fill="#1a1a1a" >A</text>
<text x="483.8" y="391.0" font-family='"Liberation Sans", Arial, sans-serif' font-size="17.8" text-anchor="middle" fill="#1a1a1a" >A</text>
<text x="521.2" y="393.6" font-family='"Liberation Sans", Arial, sans-serif' font-size="17.8" text-anchor="middle" fill="#1a1a1a" >D</text>
<text x="446.8" y="442.8" font-family='"Liberation Sans", Arial, sans-serif' font-size="17.8" text-anchor="middle" fill="#1a1a1a" >C</text>
</svg>
</body></html>
